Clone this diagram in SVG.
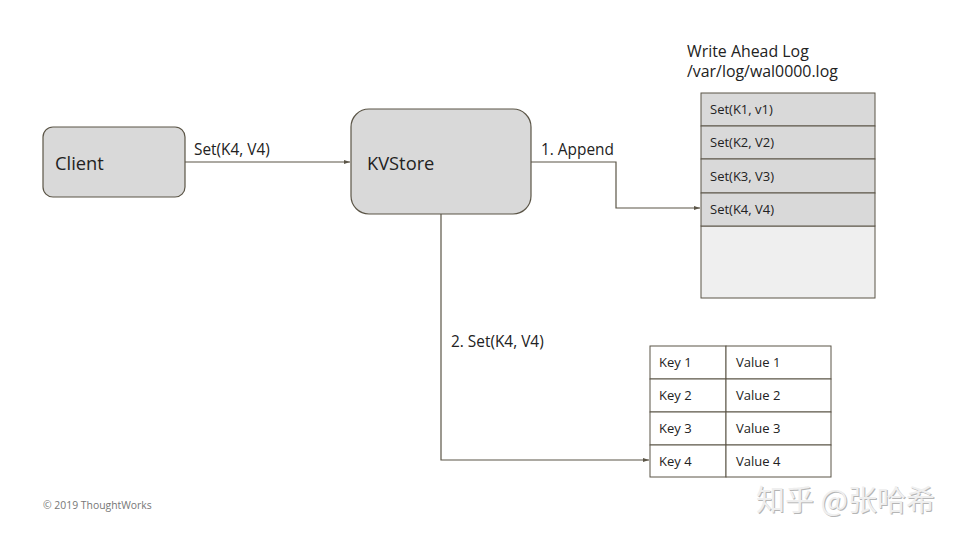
<svg xmlns="http://www.w3.org/2000/svg" width="960" height="540" viewBox="0 0 960 540">
<style>
.box{fill:#d9d9d9;stroke:#5b5547;stroke-width:1.2}
.cell{fill:#d9d9d9;stroke:#5b5547;stroke-width:1}
.wcell{fill:#ffffff;stroke:#5b5547;stroke-width:1}
.t{font-family:"Open Sans","Noto Sans","Liberation Sans",sans-serif;fill:#222}
.big{font-size:18.3px}
.lbl{font-size:15.4px}
.ttl{font-size:15.9px}
.sm{font-size:13px}
.conn{fill:none;stroke:#5b5547;stroke-width:1.2}
.wm{font-family:"Noto Sans CJK SC",sans-serif;font-size:29px}
</style>
<defs>
<marker id="arr" viewBox="0 0 10 10" refX="10" refY="5" markerWidth="6" markerHeight="6" orient="auto" markerUnits="userSpaceOnUse">
<path d="M0,1.5 L10,5 L0,8.5 z" fill="#5b5547"/>
</marker>
</defs>
<rect width="960" height="540" fill="#ffffff"/>
<g id="connectors">
<line class="conn" x1="185" y1="162" x2="350" y2="162" marker-end="url(#arr)"/>
<polyline class="conn" points="531,162 616,162 616,208 700,208" marker-end="url(#arr)"/>
<polyline class="conn" points="441,214 441,460 649,460" marker-end="url(#arr)"/>
<text class="t lbl" x="194" y="155">Set(K4, V4)</text>
<text class="t lbl" x="541" y="155">1. Append</text>
<text class="t lbl" x="451" y="347">2. Set(K4, V4)</text>
</g>
<g id="client">
<rect class="box" x="43" y="127" width="142" height="70" rx="10"/>
<text class="t big" x="55" y="170">Client</text>
</g>
<g id="kvstore">
<rect class="box" x="351" y="109" width="180" height="105" rx="18"/>
<text class="t big" x="367" y="170">KVStore</text>
</g>
<g id="wal">
<text class="t ttl" x="687" y="56.5">Write Ahead Log</text>
<text class="t ttl" x="687" y="76.5">/var/log/wal0000.log</text>
<rect x="701" y="226" width="174" height="72" fill="#efefef" stroke="#5b5547" stroke-width="1"/>
<rect class="cell" x="701" y="93" width="174" height="33"/>
<rect class="cell" x="701" y="126" width="174" height="33"/>
<rect class="cell" x="701" y="159" width="174" height="34"/>
<rect class="cell" x="701" y="193" width="174" height="33"/>
<text class="t sm" x="710" y="114">Set(K1, v1)</text>
<text class="t sm" x="710" y="147">Set(K2, V2)</text>
<text class="t sm" x="710" y="181">Set(K3, V3)</text>
<text class="t sm" x="710" y="214">Set(K4, V4)</text>
</g>
<g id="kvtable">
<rect class="wcell" x="650" y="346" width="76" height="33"/>
<rect class="wcell" x="726" y="346" width="105" height="33"/>
<rect class="wcell" x="650" y="379" width="76" height="33"/>
<rect class="wcell" x="726" y="379" width="105" height="33"/>
<rect class="wcell" x="650" y="412" width="76" height="33"/>
<rect class="wcell" x="726" y="412" width="105" height="33"/>
<rect class="wcell" x="650" y="445" width="76" height="32"/>
<rect class="wcell" x="726" y="445" width="105" height="32"/>
<text class="t sm" x="659" y="367">Key 1</text>
<text class="t sm" x="736" y="367">Value 1</text>
<text class="t sm" x="659" y="400">Key 2</text>
<text class="t sm" x="736" y="400">Value 2</text>
<text class="t sm" x="659" y="433">Key 3</text>
<text class="t sm" x="736" y="433">Value 3</text>
<text class="t sm" x="659" y="466">Key 4</text>
<text class="t sm" x="736" y="466">Value 4</text>
</g>
<text class="t" x="43" y="509" font-size="10.4" style="fill:#777">© 2019 ThoughtWorks</text>
<text class="wm" x="757" y="512" fill="#b5b5b5">知乎 @张哈希</text>
<text class="wm" x="756" y="511" fill="#efefef">知乎 @张哈希</text>
</svg>
